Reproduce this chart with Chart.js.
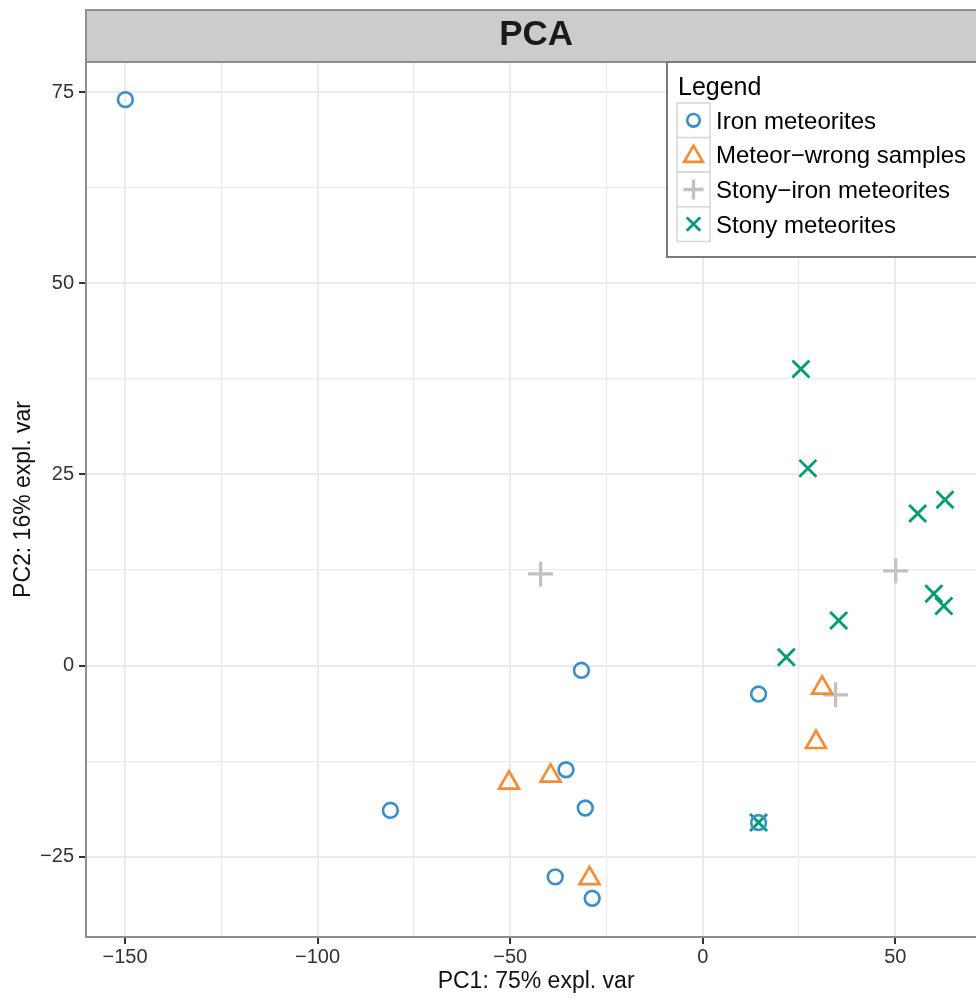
<!DOCTYPE html>
<html>
<head>
<meta charset="utf-8">
<script src="https://cdn.jsdelivr.net/npm/chart.js@4/dist/chart.umd.min.js"></script>
<style>
  html, body { margin: 0; padding: 0; overflow: hidden; background: #ffffff; }
  #wrap { position: absolute; left: 0; top: 0; width: 1002px; height: 998px; }
</style>
</head>
<body>
<div id="wrap"><canvas id="c" width="1002" height="998"></canvas></div>
<script>
// ---- data ----
const seriesNames = ['Iron meteorites', 'Meteor\u2212wrong samples', 'Stony\u2212iron meteorites', 'Stony meteorites'];
const ironX = [-149.9, -31.5, 14.5, -81.1, -35.5, -30.5, -38.3, -28.7, 14.5];
const ironY = [74.0, -0.6, -3.7, -18.9, -13.6, -18.6, -27.6, -30.4, -20.5];
const meteorWrongX = [-50.3, -39.5, -29.4, 31.0, 29.4];
const meteorWrongY = [-15.3, -14.4, -27.8, -2.9, -10.0];
const stonyIronX = [-42.1, 50.1, 34.5];
const stonyIronY = [12.0, 12.4, -3.8];
const stonyX = [25.5, 27.3, 55.8, 62.9, 60.0, 62.6, 35.3, 21.7, 14.5];
const stonyY = [38.8, 25.8, 19.9, 21.7, 9.4, 7.8, 5.9, 1.1, -20.5];
const xTickLabels = [-150, -100, -50, 0, 50];
const yTickLabels = [-25, 0, 25, 50, 75];

const FONT = "'Liberation Sans', Arial, Helvetica, sans-serif";
const colors = ['#388ECC', '#F68B33', '#C2C2C2', '#009E73'];
const styles = ['circle', 'triangle', 'cross', 'crossRot'];
const radii = [7.4, 11.5, 12.5, 12];
const widths = [2.6, 2.7, 3.3, 2.8];

function pts(xs, ys) { return xs.map((x, i) => ({ x: x, y: ys[i] })); }
const seriesData = [pts(ironX, ironY), pts(meteorWrongX, meteorWrongY), pts(stonyIronX, stonyIronY), pts(stonyX, stonyY)];

function fmt(v) { return v < 0 ? '\u2212' + Math.abs(v) : String(v); }

const datasets = seriesNames.map((name, i) => ({
  label: name,
  data: seriesData[i],
  pointStyle: styles[i],
  pointRadius: radii[i],
  pointHoverRadius: radii[i],
  borderColor: colors[i],
  backgroundColor: 'rgba(0,0,0,0)',
  pointBorderWidth: widths[i],
  borderWidth: widths[i]
}));

function drawSym(ctx, style, x, y, r, color, lw) {
  ctx.save();
  ctx.strokeStyle = color; ctx.lineWidth = lw; ctx.beginPath();
  if (style === 'circle') {
    ctx.arc(x, y, r, 0, Math.PI * 2);
  } else if (style === 'triangle') {
    ctx.moveTo(x, y - r);
    ctx.lineTo(x + r * Math.sin(2 * Math.PI / 3), y - r * Math.cos(2 * Math.PI / 3));
    ctx.lineTo(x + r * Math.sin(4 * Math.PI / 3), y - r * Math.cos(4 * Math.PI / 3));
    ctx.closePath();
  } else if (style === 'cross') {
    ctx.moveTo(x, y - r); ctx.lineTo(x, y + r);
    ctx.moveTo(x - r, y); ctx.lineTo(x + r, y);
  } else {
    const o = r * Math.SQRT1_2;
    ctx.moveTo(x - o, y - o); ctx.lineTo(x + o, y + o);
    ctx.moveTo(x + o, y - o); ctx.lineTo(x - o, y + o);
  }
  ctx.stroke();
  ctx.restore();
}

const panelPlugin = {
  id: 'panel',
  beforeDraw(chart) {
    const { ctx, chartArea: a } = chart;
    ctx.save();
    ctx.fillStyle = '#CCCCCC';
    ctx.fillRect(a.left, 10, a.right - a.left, a.top - 10);
    ctx.strokeStyle = '#8F8F8F'; ctx.lineWidth = 2;
    ctx.strokeRect(a.left, 10, a.right - a.left, a.top - 10);
    ctx.restore();
  },
  afterDatasetsDraw(chart) {
    const { ctx, chartArea: a } = chart;
    ctx.save();
    ctx.strokeStyle = '#8C8C8C'; ctx.lineWidth = 2;
    ctx.strokeRect(a.left, a.top, a.right - a.left, a.bottom - a.top);
    // legend box
    const bx = 667, by = 62, bw = a.right - 2 - 667, bh = 195;
    ctx.fillStyle = '#ffffff';
    ctx.fillRect(bx, by, bw, bh);
    ctx.strokeStyle = '#7A7A7A'; ctx.lineWidth = 2;
    ctx.strokeRect(bx, by, bw, bh);
    ctx.fillStyle = '#000000';
    ctx.font = '25px ' + FONT;
    ctx.textBaseline = 'alphabetic'; ctx.textAlign = 'left';
    ctx.fillText('Legend', 678, 95);
    const rowH = 34.6, top0 = 103;
    chart.data.datasets.forEach((ds, i) => {
      const ry = top0 + i * rowH;
      ctx.fillStyle = '#FFFFFF';
      ctx.fillRect(677, ry, 33, rowH);
      ctx.strokeStyle = '#D6D6D6'; ctx.lineWidth = 1.5;
      ctx.strokeRect(677, ry, 33, rowH);
      const lr = [6.3, 10.8, 10, 9.5][i];
      drawSym(ctx, styles[i], 693.5, ry + rowH / 2 + (i === 1 ? 1.5 : 0), lr, colors[i], widths[i]);
      ctx.fillStyle = '#000000';
      ctx.font = '24px ' + FONT;
      ctx.fillText(ds.label, 716, ry + rowH / 2 + 8.5);
    });
    ctx.restore();
  }
};

new Chart(document.getElementById('c'), {
  type: 'scatter',
  data: { datasets: datasets },
  plugins: [panelPlugin],
  options: {
    responsive: false,
    animation: false,
    events: [],
    layout: { padding: { top: 10, left: 0, right: 0, bottom: 0 } },
    plugins: {
      legend: { display: false },
      tooltip: { enabled: false },
      title: {
        display: true, text: 'PCA', fullSize: false, color: '#1A1A1A',
        font: { family: FONT, size: 35, weight: 'bold', lineHeight: 1.2 },
        padding: { top: 4, bottom: 6 }
      }
    },
    scales: {
      x: {
        type: 'linear', min: -160.13, max: 73.6,
        afterFit(s) { s.height = 61; },
        border: { display: false },
        grid: {
          color: '#EBEBEB',
          lineWidth: (c) => (c.tick && xTickLabels.includes(c.tick.value)) ? 2 : 1.3,
          tickColor: (c) => (c.tick && xTickLabels.includes(c.tick.value)) ? '#333333' : 'rgba(0,0,0,0)',
          tickLength: 7, tickWidth: 2, drawTicks: true
        },
        ticks: {
          stepSize: 25, autoSkip: false, maxRotation: 0, includeBounds: false, padding: 1,
          color: '#333333', font: { family: FONT, size: 20 },
          callback: (v) => xTickLabels.includes(v) ? fmt(v) : ''
        },
        title: {
          display: true, text: 'PC1: 75% expl. var', color: '#111111',
          font: { family: FONT, size: 23, lineHeight: 1.2 }, padding: { top: 0, bottom: 3 }
        }
      },
      y: {
        type: 'linear', min: -35.46, max: 78.92,
        afterFit(s) { s.width = 86; },
        border: { display: false },
        grid: {
          color: '#EBEBEB',
          lineWidth: (c) => (c.tick && yTickLabels.includes(c.tick.value)) ? 2 : 1.3,
          tickColor: (c) => (c.tick && yTickLabels.includes(c.tick.value)) ? '#333333' : 'rgba(0,0,0,0)',
          tickLength: 7, tickWidth: 2, drawTicks: true
        },
        ticks: {
          stepSize: 12.5, autoSkip: false, includeBounds: false, padding: 5,
          color: '#333333', font: { family: FONT, size: 20 },
          callback: (v) => yTickLabels.includes(v) ? fmt(v) : ''
        },
        title: {
          display: true, text: 'PC2: 16% expl. var', color: '#111111',
          font: { family: FONT, size: 23, lineHeight: 1.2 }, padding: { top: 10, bottom: 0 }
        }
      }
    }
  }
});
</script>
</body>
</html>
